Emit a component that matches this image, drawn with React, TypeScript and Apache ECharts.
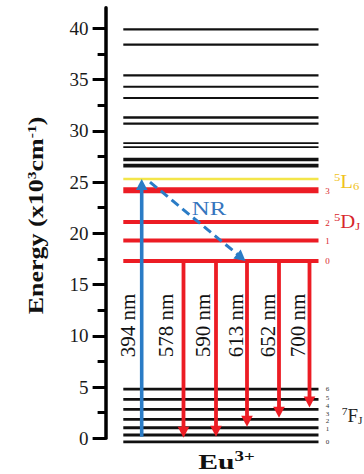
import React, { useEffect, useRef } from 'react';
import * as echarts from 'echarts';

// ---------------- data (energies in 10^3 cm^-1) ----------------
const yTickValues = [0, 5, 10, 15, 20, 25, 30, 35, 40];
const yMinorTickValues = [2.5, 7.5, 12.5, 17.5, 22.5, 27.5, 32.5, 37.5];
const higherLevels = [39.9, 38.4, 35.4, 34.3, 33.2, 31.3, 30.7, 28.8, 28.4, 27.2, 26.6];
const L6Energy = 25.3;
const DJ = ['0', '1', '2', '3'];
const DEnergies = [17.3, 19.3, 21.1, 24.2];
const FJ = ['0', '1', '2', '3', '4', '5', '6'];
const FEnergies = [-0.35, 0.32, 1.03, 1.85, 2.83, 3.8, 4.8];
const excitationNm = 394;
const excitationFrom = 0.16;
const excitationTo = 25.3;
const emissionNm = [578, 590, 613, 652, 700];
const emissionFrom = 17.3;
const emissionTo = [0.06, 0.16, 1.13, 2.0, 3.0];
const nrFrom = 25.0;
const nrTo = 17.3;
const nrLabel = 'NR';

// ---------------- layout (horizontal slots, px from the axis) ----------------
const X_MAX = 258.4;
const LEVEL_X0 = 17.7;
const LEVEL_X1 = 212.9;
const EXC_X = 36.1;
const EMIS_X = [77.9, 110.4, 141.4, 173.4, 203.9];
const NR_X0 = 44.4;
const NR_X1 = 139.9;
const EXC_LABEL_X = 21.9;
const EMIS_LABEL_X = [60.2, 97.4, 130.2, 161.9, 191.9];
const NM_LABEL_E = 11.0;
const NR_LABEL_X = 103.4;
const NR_LABEL_E = 22.4;
const J_LABEL_X = 221.9;
const D_LABEL_DY = [0.5, 0.5, 1, 0.5];
const F_LABEL_DY = [0, -6.5, -7.2, -5.8, -2.8, -1, 0];
const TERM_X = 228.4;
const F_TERM_X = 236.1;
const F_TERM_E = 2.2;

// ---------------- styles ----------------
const BLACK = '#111111';
const RED = '#ec1c24';
const BLUE = '#2a7cc6';
const YELLOW = '#f3e54a';
const GOLD = '#f0c21c';
const DRED = '#d8262c';
const SERIF = '"Liberation Serif", "Times New Roman", serif';
const HIGH_WIDTHS = [2.2, 2.2, 2.2, 2.2, 2.2, 2.4, 2.4, 1.8, 1.8, 3.6, 3.8];
const D_WIDTHS = [4, 4, 4, 5.8];
const F_WIDTH = 2.8;

type Level = { e: number; color: string; width: number };
const levels: Level[] = [
  ...higherLevels.map((e, i) => ({ e, color: BLACK, width: HIGH_WIDTHS[i] })),
  { e: L6Energy, color: YELLOW, width: 2.6 },
  ...DEnergies.map((e, i) => ({ e, color: RED, width: D_WIDTHS[i] })),
  ...FEnergies.map((e) => ({ e, color: BLACK, width: F_WIDTH })),
];

type Arrow = { x0: number; e0: number; x1: number; e1: number; color: string; width: number; dash?: number[] };
const arrows: Arrow[] = [
  { x0: EXC_X, e0: excitationFrom, x1: EXC_X, e1: excitationTo, color: BLUE, width: 3.6 },
  ...emissionTo.map((e, i) => ({ x0: EMIS_X[i], e0: emissionFrom, x1: EMIS_X[i], e1: e, color: RED, width: 3.8 })),
  { x0: NR_X0, e0: nrFrom, x1: NR_X1, e1: nrTo, color: BLUE, width: 3, dash: [9, 5] },
];

type Label = {
  x: number; e: number; text: string; dy?: number; rot?: number; sx?: number;
  style: Record<string, any>;
};

const nmStyle = { fontSize: 21, fontFamily: SERIF, fill: BLACK, align: 'center', verticalAlign: 'middle' };
const smallJ = (fill: string, size: number, lh: number) => ({
  fontSize: size, lineHeight: lh, fontFamily: SERIF, fill, align: 'center', verticalAlign: 'middle',
});
const termStyle = (fill: string) => ({
  fontSize: 18, fontFamily: SERIF, fill, align: 'left', verticalAlign: 'middle',
  rich: {
    sup: { fontSize: 11, fontFamily: SERIF, fill, padding: [0, 0, 10, 0] },
    sub: { fontSize: 11, fontFamily: SERIF, fill, padding: [9, 0, 0, 0] },
  },
});

const labels: Label[] = [
  { x: EXC_LABEL_X, e: NM_LABEL_E, text: `${excitationNm} nm`, rot: Math.PI / 2, style: nmStyle },
  ...emissionNm.map((nm, i) => ({ x: EMIS_LABEL_X[i], e: NM_LABEL_E, text: `${nm} nm`, rot: Math.PI / 2, style: nmStyle })),
  { x: NR_LABEL_X, e: NR_LABEL_E, text: nrLabel, sx: 1.3, style: { fontSize: 19, fontFamily: SERIF, fill: '#3575be', align: 'center', verticalAlign: 'middle' } },
  ...DEnergies.map((e, i) => ({ x: J_LABEL_X, e, text: DJ[i], dy: D_LABEL_DY[i], style: smallJ(DRED, 9, 9) })),
  ...FEnergies.map((e, i) => ({ x: J_LABEL_X, e, text: FJ[i], dy: F_LABEL_DY[i], style: smallJ('#333', 7, 6) })),
  { x: TERM_X, e: L6Energy, text: '{sup|5}L{sub|6}', dy: 3, sx: 1.15, style: termStyle(GOLD) },
  { x: TERM_X, e: DEnergies[2], text: '{sup|5}D{sub|J}', dy: 0, sx: 1.15, style: termStyle(DRED) },
  { x: F_TERM_X, e: F_TERM_E, text: '{sup|7}F{sub|J}', dy: 0, sx: 1.05, style: termStyle('#222') },
];

export default function App() {
  const ref = useRef<HTMLDivElement>(null);

  useEffect(() => {
    if (!ref.current) return;
    const chart = echarts.init(ref.current, undefined, { renderer: 'svg' });

    const option: any = {
      animation: false,
      backgroundColor: '#ffffff',
      grid: { left: 105.6, right: 0, top: 7.8, bottom: 35.7, containLabel: false, outerBoundsMode: 'none' },
      xAxis: { type: 'value', min: 0, max: X_MAX, show: false },
      yAxis: [
        {
          type: 'value', min: 0, max: 42, position: 'left',
          axisLine: { show: true, lineStyle: { color: '#000', width: 3.5 } },
          axisTick: { show: true, customValues: yTickValues, length: 13, lineStyle: { color: '#000', width: 3 } },
          axisLabel: { show: true, customValues: yTickValues, margin: 17, color: '#1a1a1a', fontSize: 19, fontFamily: SERIF },
          splitLine: { show: false },
        },
        {
          type: 'value', min: 0, max: 42, position: 'left',
          axisLine: { show: false },
          axisTick: { show: true, customValues: yMinorTickValues, length: 8, lineStyle: { color: '#000', width: 3 } },
          axisLabel: { show: false },
          splitLine: { show: false },
        },
      ],
      graphic: [
        {
          type: 'text', x: 36.5, y: 215.5, rotation: Math.PI / 2, scaleX: 1.3,
          style: {
            text: 'Energy (x10{sup|3}cm{sup|-1})',
            fontSize: 20, fontWeight: 'bold', fontFamily: SERIF, fill: '#111',
            align: 'center', verticalAlign: 'middle',
            rich: { sup: { fontSize: 12, fontWeight: 'bold', fontFamily: SERIF, fill: '#111', padding: [0, 0, 9, 0] } },
          },
        },
        {
          type: 'text', x: 226.5, y: 462, scaleX: 1.35,
          style: {
            text: 'Eu{sup|3+}',
            fontSize: 22, fontWeight: 'bold', fontFamily: SERIF, fill: '#111',
            align: 'center', verticalAlign: 'middle',
            rich: { sup: { fontSize: 14, fontWeight: 'bold', fontFamily: SERIF, fill: '#111', padding: [0, 0, 11, 0] } },
          },
        },
      ],
      series: [
        {
          type: 'custom', name: 'levels', silent: true, z: 2, clip: false,
          coordinateSystem: 'cartesian2d',
          encode: { x: [0, 2], y: 1 },
          data: levels.map((l) => [LEVEL_X0, l.e, LEVEL_X1]),
          renderItem: (params: any, api: any) => {
            const l = levels[params.dataIndex];
            const a = api.coord([api.value(0), api.value(1)]);
            const b = api.coord([api.value(2), api.value(1)]);
            return {
              type: 'line',
              shape: { x1: a[0], y1: a[1], x2: b[0], y2: b[1] },
              style: { stroke: l.color, lineWidth: l.width },
            };
          },
        },
        {
          type: 'custom', name: 'transitions', silent: true, z: 3, clip: false,
          coordinateSystem: 'cartesian2d',
          encode: { x: [0, 2], y: [1, 3] },
          data: arrows.map((a) => [a.x0, a.e0, a.x1, a.e1]),
          renderItem: (params: any, api: any) => {
            const ar = arrows[params.dataIndex];
            const p0 = api.coord([api.value(0), api.value(1)]);
            const p1 = api.coord([api.value(2), api.value(3)]);
            const dx = p1[0] - p0[0];
            const dy = p1[1] - p0[1];
            const len = Math.hypot(dx, dy) || 1;
            const ux = dx / len;
            const uy = dy / len;
            const hl = 11;
            const hw = 5.8;
            const bx = p1[0] - ux * hl;
            const by = p1[1] - uy * hl;
            return {
              type: 'group',
              children: [
                {
                  type: 'line',
                  shape: { x1: p0[0], y1: p0[1], x2: bx + ux, y2: by + uy },
                  style: { stroke: ar.color, lineWidth: ar.width, lineDash: ar.dash || null },
                },
                {
                  type: 'polygon',
                  shape: { points: [[p1[0], p1[1]], [bx - uy * hw, by + ux * hw], [bx + uy * hw, by - ux * hw]] },
                  style: { fill: ar.color },
                },
              ],
            };
          },
        },
        {
          type: 'custom', name: 'labels', silent: true, z: 4, clip: false,
          coordinateSystem: 'cartesian2d',
          encode: { x: 0, y: 1 },
          data: labels.map((l) => [l.x, l.e]),
          renderItem: (params: any, api: any) => {
            const l = labels[params.dataIndex];
            const p = api.coord([api.value(0), api.value(1)]);
            return {
              type: 'text',
              x: p[0],
              y: p[1] + (l.dy || 0),
              rotation: l.rot || 0,
              scaleX: l.sx || 1,
              style: { text: l.text, ...l.style },
            };
          },
        },
      ],
    };

    chart.setOption(option);
    return () => chart.dispose();
  }, []);

  return (
    <div
      ref={ref}
      style={{ position: 'fixed', left: 0, top: 0, width: 364, height: 474, background: '#fff' }}
    />
  );
}
